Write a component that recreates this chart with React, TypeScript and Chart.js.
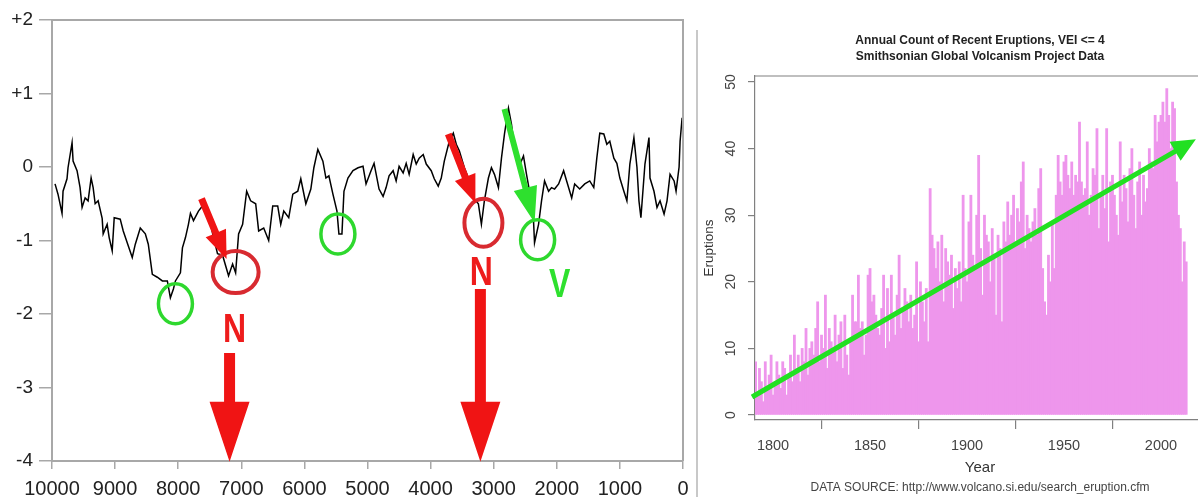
import { useEffect, useRef } from 'react';
import { Chart, registerables } from 'chart.js';

Chart.register(...registerables);

const FONT = '"Liberation Sans", Arial, Helvetica, sans-serif';

// ---------- Left chart data (years BP, anomaly) ----------
const PROXY_YEARS = [
  9952, 9905, 9841, 9825, 9762, 9746, 9682, 9666, 9603, 9555, 9523, 9475, 9428, 9380, 9348, 9316,
  9269, 9205, 9189, 9126, 9094, 9046, 9014, 8919, 8871, 8808, 8728, 8680, 8601, 8521, 8474, 8410,
  8331, 8251, 8172, 8124, 8076, 8044, 7965, 7933, 7885, 7838, 7806, 7758, 7679, 7615, 7536, 7456,
  7377, 7297, 7202, 7138, 7090, 7043, 6979, 6915, 6852, 6772, 6725, 6645, 6566, 6502, 6423, 6375,
  6327, 6248, 6184, 6105, 6057, 5977, 5898, 5850, 5787, 5707, 5659, 5612, 5548, 5484, 5453, 5405,
  5373, 5310, 5230, 5150, 5071, 5023, 4944, 4896, 4817, 4753, 4705, 4658, 4594, 4546, 4499, 4435,
  4387, 4340, 4276, 4228, 4181, 4117, 4069, 3990, 3942, 3879, 3831, 3783, 3704, 3640, 3593, 3545,
  3465, 3402, 3322, 3243, 3195, 3148, 3084, 3036, 2988, 2925, 2877, 2829, 2766, 2718, 2671, 2607,
  2528, 2480, 2432, 2369, 2353, 2289, 2242, 2194, 2130, 2083, 2035, 1971, 1892, 1844, 1764, 1717,
  1637, 1557, 1478, 1414, 1366, 1319, 1255, 1207, 1160, 1096, 1048, 1001, 937, 889, 842, 778,
  730, 698, 667, 603, 539, 523, 460, 412, 364, 300, 253, 205, 141, 110, 62, 46, 14,
];
const PROXY_VALUES = [
  -0.23, -0.37, -0.63, -0.33, -0.16, -0.01, 0.33, 0.08, -0.05, -0.28, -0.55, -0.42, -0.46, -0.15, -0.28, -0.5,
  -0.46, -0.7, -0.91, -0.78, -0.96, -1.14, -0.69, -0.71, -0.87, -1.03, -1.23, -1.05, -0.83, -0.91, -1.05, -1.46,
  -1.5, -1.55, -1.55, -1.78, -1.66, -1.55, -1.44, -1.1, -0.96, -0.78, -0.63, -0.73, -0.6, -0.53, -0.55, -0.9,
  -1.18, -1.2, -1.48, -1.32, -1.44, -0.91, -0.78, -0.33, -0.46, -0.5, -0.87, -0.83, -1.0, -0.53, -0.53, -0.78,
  -0.6, -0.69, -0.37, -0.33, -0.16, -0.5, -0.3, -0.01, 0.24, 0.08, -0.15, -0.12, -0.37, -0.6, -0.91, -0.91,
  -0.33, -0.15, -0.05, -0.01, 0.01, -0.23, -0.05, 0.05, -0.3, -0.4, -0.28, -0.12, -0.05, -0.19, 0.01, -0.08,
  0.05, -0.1, 0.17, 0.04, 0.12, 0.17, 0.04, -0.05, -0.16, -0.26, -0.15, 0.08, 0.35, 0.46, 0.31, 0.22,
  -0.01, -0.15, -0.42, -0.5, -0.78, -0.46, -0.15, -0.01, -0.1, -0.28, 0.12, 0.45, 0.8, 0.58, 0.26, -0.01,
  0.15, -0.1, -0.33, -0.73, -1.03, -0.78, -0.46, -0.19, -0.33, -0.28, -0.3, -0.23, -0.05, -0.19, -0.42, -0.23,
  -0.3, -0.23, -0.19, -0.28, 0.12, 0.46, 0.45, 0.31, 0.35, 0.12, 0.05, -0.15, -0.33, -0.46, 0.04, 0.4,
  0.0, -0.46, -0.69, 0.04, 0.4, -0.15, -0.33, -0.55, -0.46, -0.64, -0.46, -0.1, -0.19, -0.33, 0.0, 0.35, 0.67,
];
const LEFT_X_TICKS = [10000, 9000, 8000, 7000, 6000, 5000, 4000, 3000, 2000, 1000, 0];
const LEFT_Y_TICKS = [2, 1, 0, -1, -2, -3, -4];

// annotations on the left chart (data coordinates: year, value)
const GREEN_CIRCLES = [
  { x: 8044, y: -1.86 },
  { x: 5469, y: -0.91 },
  { x: 2304, y: -0.99 },
];
const RED_CIRCLES = [
  { x: 7090, y: -1.43, rx: 23, ry: 21 },
  { x: 3163, y: -0.76, rx: 19, ry: 24 },
];
const SMALL_RED_ARROWS = [
  { from: [7631, -0.43], to: [7233, -1.25] },
  { from: [3720, 0.45], to: [3290, -0.49] },
];
const GREEN_POINTER = { from: [2829, 0.79], to: [2352, -0.76] };
const BIG_RED_ARROWS = [
  { x: 7186, from: -2.53, to: -4.01 },
  { x: 3211, from: -1.66, to: -4.01 },
];
const LETTERS = [
  { text: 'N', x: 7106, y: -2.2, color: '#ee1c1c' },
  { text: 'N', x: 3195, y: -1.43, color: '#ee1c1c' },
  { text: 'V', x: 1955, y: -1.59, color: '#2ee02e' },
];

// ---------- Right chart data ----------
const ERUPTION_FIRST_YEAR = 1791;
const ERUPTION_COUNTS = [
  8, 3, 7, 5, 2, 8, 4, 6, 9, 3,
  5, 8, 6, 4, 8, 7, 3, 6, 9, 5,
  12, 7, 9, 5, 10, 8, 13, 6, 10, 11,
  9, 13, 17, 8, 12, 10, 18, 7, 13, 11,
  10, 15, 8, 12, 14, 7, 15, 9, 6, 11,
  18, 14, 14, 21, 13, 14, 9, 12, 21, 22,
  17, 18, 15, 13, 12, 16, 21, 10, 19, 11,
  21, 15, 12, 18, 24, 13, 16, 19, 17, 14,
  18, 13, 15, 23, 11, 20, 17, 14, 19, 11,
  34, 27, 25, 22, 26, 20, 27, 17, 25, 23,
  21, 24, 16, 22, 19, 23, 17, 33, 22, 20,
  29, 33, 24, 22, 30, 39, 25, 18, 30, 27,
  26, 20, 28, 24, 15, 27, 25, 14, 29, 26,
  32, 27, 30, 33, 26, 31, 29, 35, 38, 25,
  30, 28, 26, 29, 31, 27, 34, 37, 22, 17,
  15, 24, 20, 29, 22, 33, 39, 35, 33, 38,
  39, 36, 34, 38, 33, 36, 35, 44, 35, 33,
  34, 41, 30, 33, 37, 36, 43, 28, 33, 36,
  31, 43, 26, 35, 36, 33, 30, 27, 41, 32,
  36, 34, 29, 37, 40, 33, 28, 35, 38, 30,
  36, 32, 34, 40, 38, 37, 45, 41, 44, 45,
  47, 44, 49, 45, 40, 47, 46, 35, 30, 28,
  20, 26, 23,
];
const ERUPTION_YEARS = ERUPTION_COUNTS.map((_, i) => ERUPTION_FIRST_YEAR + i);
const RIGHT_X_TICKS = [1800, 1850, 1900, 1950, 2000];
const RIGHT_Y_TICKS = [0, 10, 20, 30, 40, 50];
const RIGHT_TITLE = ['Annual Count of Recent Eruptions, VEI <= 4', 'Smithsonian Global Volcanism Project Data'];
const SOURCE_NOTE = 'DATA SOURCE: http://www.volcano.si.edu/search_eruption.cfm';
const TREND_ARROW = { from: [1789.2, 2.7], to: [2018, 41.4] };

function blockArrow(
  ctx: CanvasRenderingContext2D,
  x1: number, y1: number, x2: number, y2: number,
  shaft: number, headW: number, headL: number, color: string,
) {
  const dx = x2 - x1;
  const dy = y2 - y1;
  const len = Math.hypot(dx, dy);
  const ux = dx / len;
  const uy = dy / len;
  const nx = -uy;
  const ny = ux;
  const bx = x2 - ux * headL;
  const by = y2 - uy * headL;
  ctx.beginPath();
  ctx.moveTo(x1 + (nx * shaft) / 2, y1 + (ny * shaft) / 2);
  ctx.lineTo(bx + (nx * shaft) / 2, by + (ny * shaft) / 2);
  ctx.lineTo(bx + (nx * headW) / 2, by + (ny * headW) / 2);
  ctx.lineTo(x2, y2);
  ctx.lineTo(bx - (nx * headW) / 2, by - (ny * headW) / 2);
  ctx.lineTo(bx - (nx * shaft) / 2, by - (ny * shaft) / 2);
  ctx.lineTo(x1 - (nx * shaft) / 2, y1 - (ny * shaft) / 2);
  ctx.closePath();
  ctx.fillStyle = color;
  ctx.fill();
}

const leftOverlay = {
  id: 'leftOverlay',
  afterDatasetsDraw(chart: any) {
    const { ctx, chartArea: ca, scales } = chart;
    const xs = scales.x;
    const ys = scales.y;
    const px = (v: number) => xs.getPixelForValue(v);
    const py = (v: number) => ys.getPixelForValue(v);
    ctx.save();
    ctx.strokeStyle = '#a8a8a8';
    ctx.lineWidth = 2;
    ctx.beginPath();
    ctx.moveTo(ca.left, ca.top);
    ctx.lineTo(ca.right, ca.top);
    ctx.lineTo(ca.right, ca.bottom);
    ctx.stroke();

    ctx.strokeStyle = '#2ed82e';
    ctx.lineWidth = 3.5;
    GREEN_CIRCLES.forEach((c) => {
      ctx.beginPath();
      ctx.ellipse(px(c.x), py(c.y), 17, 20, 0, 0, Math.PI * 2);
      ctx.stroke();
    });
    ctx.strokeStyle = '#d82a30';
    ctx.lineWidth = 4;
    RED_CIRCLES.forEach((c) => {
      ctx.beginPath();
      ctx.ellipse(px(c.x), py(c.y), c.rx, c.ry, 0, 0, Math.PI * 2);
      ctx.stroke();
    });
    SMALL_RED_ARROWS.forEach((a) => {
      blockArrow(ctx, px(a.from[0]), py(a.from[1]), px(a.to[0]), py(a.to[1]), 7, 22, 28, '#f01414');
    });
    blockArrow(
      ctx,
      px(GREEN_POINTER.from[0]), py(GREEN_POINTER.from[1]),
      px(GREEN_POINTER.to[0]), py(GREEN_POINTER.to[1]),
      6, 24, 36, '#2ee02e',
    );
    BIG_RED_ARROWS.forEach((a) => {
      blockArrow(ctx, px(a.x), py(a.from), px(a.x), py(a.to), 11, 40, 60, '#f01414');
    });
    LETTERS.forEach((l) => {
      ctx.save();
      ctx.translate(px(l.x), py(l.y));
      ctx.scale(0.8, 1);
      ctx.font = `bold 40px ${FONT}`;
      ctx.fillStyle = l.color;
      ctx.textAlign = 'center';
      ctx.textBaseline = 'middle';
      ctx.fillText(l.text, 0, 2);
      ctx.restore();
    });
    ctx.restore();
  },
};

const rightOverlay = {
  id: 'rightOverlay',
  afterDatasetsDraw(chart: any) {
    const { ctx, chartArea: ca, scales } = chart;
    const xs = scales.x;
    const ys = scales.y;
    ctx.save();
    ctx.strokeStyle = '#808080';
    ctx.lineWidth = 1.2;
    ctx.beginPath();
    ctx.moveTo(ca.left, ca.top);
    ctx.lineTo(ca.right, ca.top);
    ctx.lineTo(ca.right, ca.bottom);
    ctx.stroke();

    const x1 = xs.getPixelForValue(TREND_ARROW.from[0]);
    const y1 = ys.getPixelForValue(TREND_ARROW.from[1]);
    const x2 = xs.getPixelForValue(TREND_ARROW.to[0]);
    const y2 = ys.getPixelForValue(TREND_ARROW.to[1]);
    blockArrow(ctx, x1, y1, x2, y2, 5, 22, 24, '#22e022');

    const cx = (ca.left + ca.right) / 2;
    ctx.fillStyle = '#222';
    ctx.textAlign = 'center';
    ctx.textBaseline = 'middle';
    ctx.font = `bold 12px ${FONT}`;
    ctx.fillText(RIGHT_TITLE[0], cx, 41);
    ctx.fillText(RIGHT_TITLE[1], cx, 57);
    ctx.font = `12px ${FONT}`;
    ctx.fillStyle = '#444';
    ctx.fillText(SOURCE_NOTE, cx, 488);
    ctx.restore();
  },
};

export default function App() {
  const leftRef = useRef<HTMLCanvasElement>(null);
  const rightRef = useRef<HTMLCanvasElement>(null);

  useEffect(() => {
    const left = new Chart(leftRef.current as HTMLCanvasElement, {
      type: 'line',
      data: {
        datasets: [
          {
            data: PROXY_YEARS.map((x, i) => ({ x, y: PROXY_VALUES[i] })),
            borderColor: '#000',
            borderWidth: 1.5,
            pointRadius: 0,
            tension: 0,
            fill: false,
          },
        ],
      },
      options: {
        animation: false,
        responsive: false,
        maintainAspectRatio: false,
        layout: { padding: { top: 20, right: 14, left: 0, bottom: 0 } },
        plugins: { legend: { display: false }, tooltip: { enabled: false } },
        scales: {
          x: {
            type: 'linear',
            reverse: true,
            min: 0,
            max: 10000,
            afterBuildTicks: (s: any) => {
              s.ticks = LEFT_X_TICKS.map((v) => ({ value: v }));
            },
            afterFit: (s: any) => {
              s.height = 36;
            },
            grid: { drawOnChartArea: false, drawTicks: true, tickLength: 8, color: '#a8a8a8', lineWidth: 1.5 },
            border: { display: true, color: '#a8a8a8', width: 2 },
            ticks: {
              font: { family: FONT, size: 20 },
              color: '#222',
              padding: 8,
              maxRotation: 0,
              autoSkip: false,
              callback: (v: any) => String(v),
            },
          },
          y: {
            type: 'linear',
            min: -4,
            max: 2,
            afterBuildTicks: (s: any) => {
              s.ticks = LEFT_Y_TICKS.map((v) => ({ value: v }));
            },
            afterFit: (s: any) => {
              s.width = 52;
            },
            grid: { drawOnChartArea: false, drawTicks: true, tickLength: 13, color: '#a8a8a8', lineWidth: 1.5 },
            border: { display: true, color: '#a8a8a8', width: 2 },
            ticks: {
              font: { family: FONT, size: 19 },
              color: '#222',
              padding: 6,
              callback: (v: any) => (v > 0 ? '+' + v : String(v)),
            },
          },
        },
      },
      plugins: [leftOverlay],
    } as any);

    const right = new Chart(rightRef.current as HTMLCanvasElement, {
      type: 'bar',
      data: {
        datasets: [
          {
            data: ERUPTION_YEARS.map((x, i) => ({ x, y: ERUPTION_COUNTS[i] })),
            backgroundColor: 'rgb(238,150,236)',
            borderWidth: 0,
            barThickness: 2.15,
          },
        ],
      },
      options: {
        animation: false,
        responsive: false,
        maintainAspectRatio: false,
        layout: { padding: { top: 76, right: 17, left: 0, bottom: 0 } },
        plugins: { legend: { display: false }, tooltip: { enabled: false } },
        scales: {
          x: {
            type: 'linear',
            min: 1790.7,
            max: 2022.7,
            offset: false,
            afterBuildTicks: (s: any) => {
              s.ticks = RIGHT_X_TICKS.map((v) => ({ value: v }));
            },
            afterFit: (s: any) => {
              s.height = 77;
            },
            grid: { drawOnChartArea: false, drawTicks: true, tickLength: 9, color: '#808080', lineWidth: 1.2 },
            border: { display: true, color: '#808080', width: 1.2 },
            ticks: {
              font: { family: FONT, size: 14.5 },
              color: '#444',
              padding: 8,
              maxRotation: 0,
              autoSkip: false,
              callback: (v: any) => String(v),
            },
            title: {
              display: true,
              text: 'Year',
              font: { family: FONT, size: 15 },
              color: '#333',
              padding: { top: 0, bottom: 20 },
            },
          },
          y: {
            type: 'linear',
            min: -0.75,
            max: 50.9,
            afterBuildTicks: (s: any) => {
              s.ticks = RIGHT_Y_TICKS.map((v) => ({ value: v }));
            },
            afterFit: (s: any) => {
              s.width = 58;
            },
            grid: { drawOnChartArea: false, drawTicks: true, tickLength: 7, color: '#808080', lineWidth: 1.2 },
            border: { display: true, color: '#808080', width: 1.2 },
            ticks: {
              font: { family: FONT, size: 14 },
              color: '#444',
              padding: 9,
              minRotation: 90,
              maxRotation: 90,
              crossAlign: 'center',
            },
            title: {
              display: true,
              text: 'Eruptions',
              font: { family: FONT, size: 13.5 },
              color: '#333',
              padding: { top: 4, bottom: 0 },
            },
          },
        },
      },
      plugins: [rightOverlay],
    } as any);

    return () => {
      left.destroy();
      right.destroy();
    };
  }, []);

  return (
    <div
      style={{
        position: 'fixed',
        left: 0,
        top: 0,
        width: 1198,
        height: 497,
        background: '#fff',
        overflow: 'hidden',
      }}
    >
      <canvas
        ref={leftRef}
        width={697}
        height={497}
        style={{ position: 'absolute', left: 0, top: 0, width: 697, height: 497 }}
      />
      <div style={{ position: 'absolute', left: 697, top: 0, width: 501, height: 497, overflow: 'hidden' }}>
        <canvas
          ref={rightRef}
          width={525}
          height={497}
          style={{ position: 'absolute', left: 0, top: 0, width: 525, height: 497 }}
        />
      </div>
      <div style={{ position: 'absolute', left: 696, top: 30, width: 2, height: 467, background: '#c8c8c8' }} />
    </div>
  );
}
